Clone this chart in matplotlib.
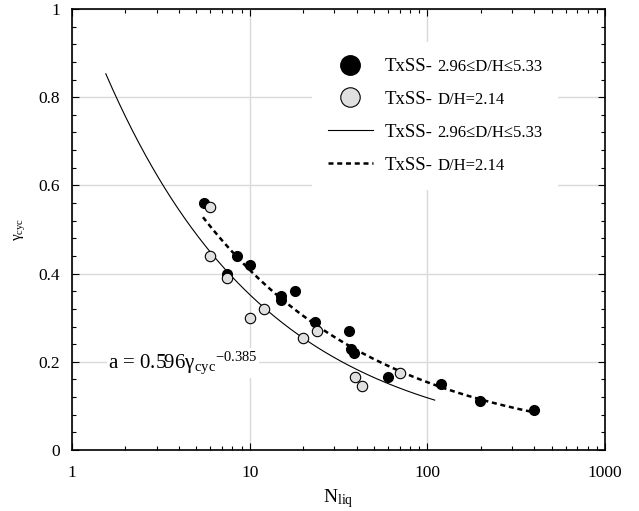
import matplotlib
matplotlib.use("Agg")
import matplotlib.pyplot as plt
import numpy as np
from matplotlib.lines import Line2D
from matplotlib.offsetbox import HPacker, TextArea
from matplotlib.ticker import AutoMinorLocator, FuncFormatter, LogLocator, NullFormatter

SERIF = ['Liberation Serif', 'DejaVu Serif']
plt.rcParams['font.family'] = SERIF
plt.rcParams['mathtext.fontset'] = 'custom'
plt.rcParams['mathtext.rm'] = 'Liberation Serif'
plt.rcParams['mathtext.it'] = 'Liberation Serif'
plt.rcParams['mathtext.default'] = 'regular'

# cyclic shear strain against number of cycles to liquefaction
n_wide = [5.5, 8.5, 7.5, 10, 15, 15, 18, 23.3, 36, 37, 38.6, 60, 119, 198, 398]
g_wide = [0.56, 0.44, 0.40, 0.42, 0.35, 0.34, 0.36, 0.29, 0.27, 0.23, 0.22,
          0.165, 0.15, 0.11, 0.09]

n_narrow = [6.0, 6.0, 7.5, 10, 12, 20, 23.8, 39, 43, 70]
g_narrow = [0.55, 0.44, 0.39, 0.30, 0.32, 0.253, 0.27, 0.165, 0.145, 0.175]

# power-law fits: gamma = c * N**b over [n_min, n_max]
fit_solid = dict(c=1.05, b=-0.474, n_min=1.55, n_max=110)
fit_dashed = dict(c=1.085, b=-0.4244, n_min=5.46, n_max=400)

prefix = 'TxSS-'
notes = ['2.96\u2264D/H\u22645.33', 'D/H=2.14',
         '2.96\u2264D/H\u22645.33', 'D/H=2.14']

x_ticks = [1, 10, 100, 1000]
y_ticks = [0, 0.2, 0.4, 0.6, 0.8, 1.0]


def fit_curve(fit):
    n = np.geomspace(fit['n_min'], fit['n_max'], 200)
    return n, fit['c'] * n ** fit['b']


def main():
    fig = plt.figure(figsize=(6.39, 5.11), dpi=100)
    ax = fig.add_axes([72 / 639, 1 - 450 / 511, 533 / 639, 441 / 511])

    ax.set_xscale('log')
    ax.set_xlim(1, 1000)
    ax.set_ylim(0, 1)
    ax.set_xticks(x_ticks)
    ax.xaxis.set_minor_locator(LogLocator(base=10, subs=np.arange(2, 10)))
    ax.xaxis.set_minor_formatter(NullFormatter())
    ax.xaxis.set_major_formatter(FuncFormatter(lambda v, _: f'{v:g}'))
    ax.set_yticks(y_ticks)
    ax.yaxis.set_minor_locator(AutoMinorLocator(5))
    ax.yaxis.set_major_formatter(FuncFormatter(lambda v, _: f'{v:g}'))

    ax.grid(True, which='major', color='#d9d9d9', lw=1.0, zorder=0)
    ax.set_axisbelow(True)
    ax.tick_params(which='both', direction='in', top=True, right=True,
                   width=0.8, labelsize=12.5)
    ax.tick_params(which='major', length=5)
    ax.tick_params(which='minor', length=3)
    ax.tick_params(axis='y', pad=8.5)
    ax.tick_params(axis='x', pad=11)
    for spine in ax.spines.values():
        spine.set_linewidth(1.2)

    xs, ys = fit_curve(fit_solid)
    ax.plot(xs, ys, color='black', lw=0.8, zorder=2)
    xd, yd = fit_curve(fit_dashed)
    ax.plot(xd, yd, color='black', lw=1.8, ls=(0, (2, 1.5)), zorder=2)

    ax.plot(n_wide, g_wide, ls='none', marker='o', ms=7, mfc='black',
            mec='black', zorder=3)
    ax.plot(n_narrow, g_narrow, ls='none', marker='o', ms=7.5, mfc='#e0e0e0',
            mec='black', mew=0.8, zorder=4)

    ax.text(1.594, 0.186, r'a = 0.596$\gamma_{cyc}{}^{-0.385}$',
            fontsize=15, va='baseline',
            bbox=dict(fc='white', ec='none', pad=1))

    ax.set_ylabel(r'$\gamma_{cyc}$', fontsize=11)
    ax.yaxis.set_label_coords(-0.085, 0.5)
    ax.set_xlabel(r'$N_{liq}$', fontsize=14)
    ax.xaxis.set_label_coords(0.5, -0.085)

    handles = [
        Line2D([], [], ls='none', marker='o', ms=14, mfc='black', mec='black'),
        Line2D([], [], ls='none', marker='o', ms=14, mfc='#e0e0e0',
               mec='black', mew=0.8),
        Line2D([], [], color='black', lw=0.8),
        Line2D([], [], color='black', lw=1.8, ls=(0, (2, 1.5))),
    ]
    leg = ax.legend(handles, [prefix] * 4, loc='upper left',
                    bbox_to_anchor=(0.450, 0.925), borderaxespad=0,
                    fontsize=13.5, frameon=True, fancybox=False,
                    facecolor='white', edgecolor='none', framealpha=1,
                    borderpad=0.85, handlelength=2.4, handletextpad=0.65,
                    labelspacing=0.84)
    # append the smaller D/H range after each "TxSS-" label
    column = leg._legend_handle_box.get_children()[0]
    for row, note in zip(column.get_children(), notes):
        parts = row.get_children()
        small = TextArea(note, textprops=dict(fontsize=12, family=SERIF))
        parts[1] = HPacker(children=[parts[1], small], pad=0, sep=3,
                           align='baseline')
    leg._legend_box.set_figure(fig)

    fig.savefig('out.png', dpi=100)


if __name__ == '__main__':
    main()
